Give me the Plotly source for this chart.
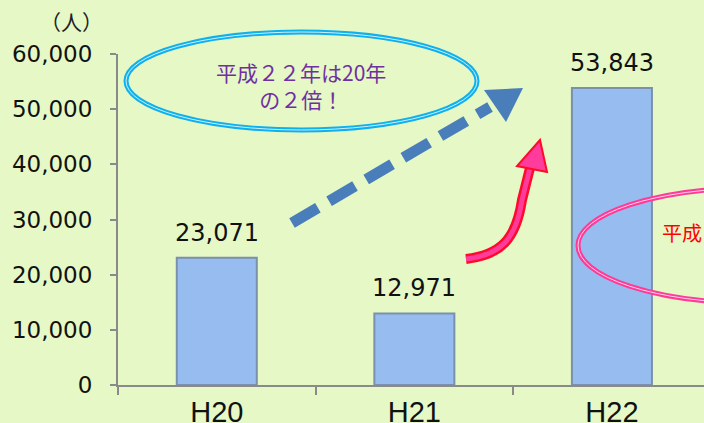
import plotly.graph_objects as go

# ---- data ----
categories = ["H20", "H21", "H22"]
visitors = [23071, 12971, 53843]
y_ticks = [0, 10000, 20000, 30000, 40000, 50000, 60000]
unit_label = "（人）"
note_main = "平成２２年は20年<br>の２倍！"
note_side = "平成"

# ---- layout geometry (pixels) ----
W, H = 704, 423
ML, MR, MT, MB = 118, 0, 54, 38
PW, PH = W - ML - MR, H - MT - MB
BG = "#e5f8c6"


def px(x):
    return (x - ML) / PW


def py(y):
    return (H - MB - y) / PH


def path(points, close=False):
    s = "M {} {}".format(px(points[0][0]), py(points[0][1]))
    for p in points[1:]:
        s += " L {} {}".format(px(p[0]), py(p[1]))
    if close:
        s += " Z"
    return s


fig = go.Figure()
fig.add_trace(go.Bar(
    x=categories, y=visitors, width=0.405,
    marker=dict(color="#97bdf0", line=dict(color="#7b90ab", width=2)),
    hoverinfo="skip",
))

shapes = []
# blue ellipse (double line)
shapes.append(dict(type="circle", xref="paper", yref="paper",
                   x0=px(126), x1=px(477), y0=py(130), y1=py(32),
                   line=dict(color="#10b0ec", width=5)))
shapes.append(dict(type="circle", xref="paper", yref="paper",
                   x0=px(126), x1=px(477), y0=py(130), y1=py(32),
                   line=dict(color="#c8f0ff", width=1)))
# pink ellipse (double line), drawn over the chart
shapes.append(dict(type="circle", xref="paper", yref="paper",
                   x0=px(578), x1=px(930), y0=py(303), y1=py(188),
                   line=dict(color="#ff3b9a", width=5)))
shapes.append(dict(type="circle", xref="paper", yref="paper",
                   x0=px(578), x1=px(930), y0=py(303), y1=py(188),
                   line=dict(color="#ffd0e8", width=1)))
# dashed blue arrow
shapes.append(dict(type="line", xref="paper", yref="paper",
                   x0=px(292), y0=py(223), x1=px(490), y1=py(107),
                   line=dict(color="#4a7ebb", width=11, dash="30px,13px")))
shapes.append(dict(type="path", xref="paper", yref="paper",
                   path=path([(523, 88), (484, 90), (506, 122)], close=True),
                   fillcolor="#4a7ebb", line=dict(width=0)))
# pink curved arrow
curve = "M {} {} C {} {}, {} {}, {} {} L {} {}".format(
    px(466), py(259), px(500), py(255), px(516), py(240), px(522), py(200),
    px(530), py(168))
shapes.append(dict(type="path", xref="paper", yref="paper", path=curve,
                   line=dict(color="#ff0a2a", width=10)))
shapes.append(dict(type="path", xref="paper", yref="paper", path=curve,
                   line=dict(color="#ff3c9c", width=5)))
shapes.append(dict(type="path", xref="paper", yref="paper",
                   path=path([(540, 140), (517, 166), (547, 172)], close=True),
                   fillcolor="#ff3c9c", line=dict(color="#ff0a2a", width=2)))

annotations = []
for c, v in zip(categories, visitors):
    annotations.append(dict(x=c, y=v, xref="x", yref="y", text=f"{v:,}",
                            showarrow=False, xanchor="center", yanchor="bottom",
                            yshift=9,
                            font=dict(family="DejaVu Sans", size=24, color="#111111")))
annotations.append(dict(x=px(71), y=py(21), xref="paper", yref="paper",
                        xanchor="center", yanchor="middle",
                        text=unit_label, showarrow=False,
                        font=dict(family="Noto Sans CJK JP", size=21, color="#222222")))
annotations.append(dict(x=px(301), y=py(85), xref="paper", yref="paper",
                        xanchor="center", yanchor="middle", align="center",
                        text=note_main, showarrow=False,
                        font=dict(family="Noto Sans CJK JP", size=21, color="#7030a0")))
annotations.append(dict(x=px(660), y=py(232), xref="paper", yref="paper",
                        xanchor="left", yanchor="middle",
                        text=note_side, showarrow=False,
                        font=dict(family="Noto Sans CJK JP", size=20, color="#ff0000")))

fig.update_layout(
    width=W, height=H,
    margin=dict(l=ML, r=MR, t=MT, b=MB, pad=0, autoexpand=False),
    paper_bgcolor=BG, plot_bgcolor=BG,
    showlegend=False,
    shapes=shapes, annotations=annotations,
    xaxis=dict(type="category", range=[-0.5, 2.466], showgrid=False,
               automargin=False,
               showline=True, linecolor="#8a8a8a", linewidth=2,
               ticks="outside", tickson="boundaries", ticklen=8,
               tickcolor="#8a8a8a", tickwidth=2,
               tickfont=dict(family="Liberation Sans, Arial", size=29, color="#111111")),
    yaxis=dict(range=[0, 60000], tickvals=y_ticks, tickformat=",d",
               showgrid=False, zeroline=False, automargin=False,
               showline=True, linecolor="#8a8a8a", linewidth=2,
               ticks="outside", ticklen=6, tickcolor="#8a8a8a", tickwidth=2,
               ticklabelstandoff=13,
               tickfont=dict(family="DejaVu Sans", size=23, color="#111111")),
)

fig.write_html(
    "out.html",
    config={"displayModeBar": False},
    post_script="document.body.style.margin='0';"
                "document.body.style.overflow='hidden';"
                "document.body.style.background='" + BG + "';",
)
